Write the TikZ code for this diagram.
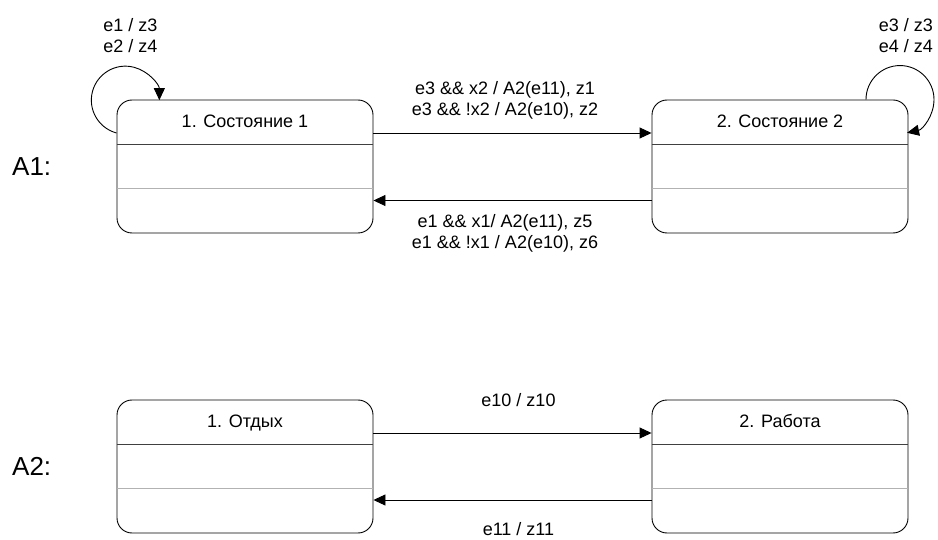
\documentclass[tikz,border=0pt]{standalone}
\usepackage{fontspec}
\setmainfont{Liberation Sans}
\usetikzlibrary{arrows.meta,calc}
\begin{document}
\begin{tikzpicture}[x=1pt,y=-1pt,
  every node/.style={font=\fontsize{18}{21}\selectfont, inner sep=0pt},
  statebox/.style={draw=black, line width=0.9pt, rounded corners=15pt, minimum width=256pt, minimum height=133pt},
  sepdark/.style={draw=black!75, line width=0.9pt},
  seplight/.style={draw=black!30, line width=0.9pt},
  arr/.style={line width=0.9pt, -{Triangle[length=12pt,width=11pt]}},
  lbl/.style={align=center},
  big/.style={font=\fontsize{26}{30}\selectfont}]
\useasboundingbox (0,0) rectangle (938,540);

% states
\node[statebox] (s1) at (245,166.5) {};
\node[statebox] (s2) at (780,166.5) {};
\node[statebox] (s3) at (245,466.5) {};
\node[statebox] (s4) at (780,466.5) {};

\foreach \s in {s1,s2,s3,s4}{
  \draw[sepdark] ([yshift=-45pt]\s.north west) -- ([yshift=-45pt]\s.north east);
  \draw[seplight] ([yshift=-89pt]\s.north west) -- ([yshift=-89pt]\s.north east);
}

\node[anchor=base] (t1) at ([yshift=-28pt]s1.north) {1. Состояние 1};
\node[anchor=base] (t2) at ([yshift=-28pt]s2.north) {2. Состояние 2};
\node[anchor=base] (t3) at ([yshift=-28pt]s3.north) {1. Отдых};
\node[anchor=base] (t4) at ([yshift=-28pt]s4.north) {2. Работа};

% automaton names
\node[big, anchor=west] (a1) at (12,166.5) {A1:};
\node[big, anchor=west] (a2) at (12,466.5) {A2:};

% transitions A1
\draw[arr] ([yshift=33.5pt]s1.east) -- ([yshift=33.5pt]s2.west);
\draw[arr] ([yshift=-34pt]s2.west) -- ([yshift=-34pt]s1.east);
\node[lbl] (l12) at (505,100) {e3 \&\& x2 / A2(e11), z1\\e3 \&\& !x2 / A2(e10), z2};
\node[lbl] (l21) at (505,233.5) {e1 \&\& x1/ A2(e11), z5\\e1 \&\& !x1 / A2(e10), z6};

% self loops
\draw[arr] ([yshift=33.5pt]s1.west) arc[start angle=255, end angle=0, radius=34pt];
\draw[arr] ([xshift=86pt]s2.north) arc[start angle=180, end angle=-78, radius=34pt];
\node[lbl] (l11) at (130.5,35.5) {e1 / z3\\e2 / z4};
\node[lbl] (l22) at (906,35.5) {e3 / z3\\e4 / z4};

% transitions A2
\draw[arr] ([yshift=33.5pt]s3.east) -- ([yshift=33.5pt]s4.west);
\draw[arr] ([yshift=-33.5pt]s4.west) -- ([yshift=-33.5pt]s3.east);
\node[anchor=base] (l34) at (518.5,406.5) {e10 / z10};
\node[anchor=base] (l43) at (518.5,535.5) {e11 / z11};
\end{tikzpicture}
\end{document}
